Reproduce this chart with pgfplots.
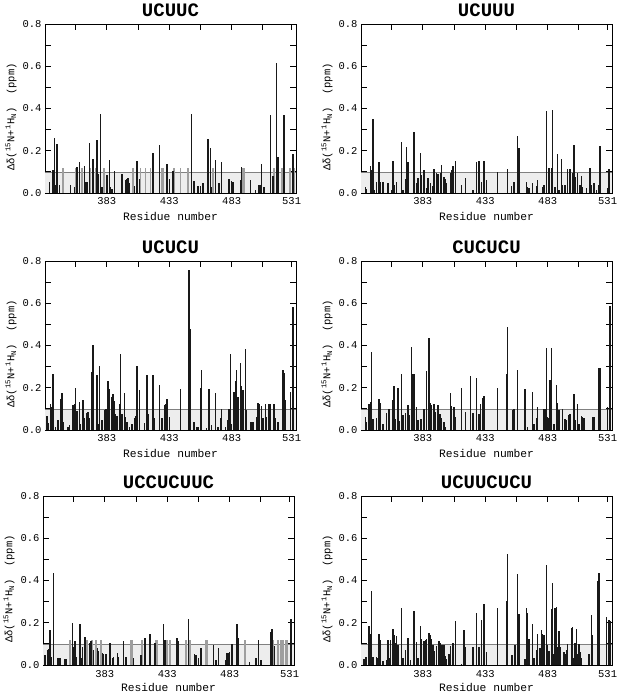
\documentclass[border=0pt]{standalone}
\usepackage{pgfplots}
\pgfplotsset{compat=1.18}
\usepackage{fontspec}
\setmainfont{Liberation Mono}

\definecolor{barblack}{gray}{0.1}
\definecolor{bargray}{gray}{0.62}
\definecolor{bandgray}{gray}{0.93}

\pgfplotsset{
  panel/.style={
    scale only axis, width=251pt, height=169pt, anchor=south west,
    xmin=333.5, xmax=534.5, ymin=0, ymax=0.8,
    xtick={383,433,483,531}, minor xtick={358,408,458,508},
    ytick={0,0.2,0.4,0.6,0.8}, minor ytick={0.1,0.3,0.5,0.7},
    tick align=inside, major tick length=6pt, minor tick length=6pt,
    tick style={black, line width=0.9pt},
    axis line style={line width=0.7pt},
    yticklabel style={/pgf/number format/fixed, /pgf/number format/fixed zerofill,
      /pgf/number format/precision=1, /pgf/number format/assume math mode=true},
    xticklabel style={/pgf/number format/assume math mode=true, /pgf/number format/1000 sep={},
      anchor=base, yshift=-12pt},
    ticklabel style={font=\fontsize{10.5}{12}\selectfont},
    xlabel={Residue number},
    xlabel style={at={(axis description cs:0.5,0)}, anchor=base, yshift=-28pt, font=\fontsize{11.3}{12}\selectfont},
    ylabel={Δδ(\textsuperscript{15}N+\textsuperscript{1}H\textsubscript{N})\ \ (ppm)},
    ylabel style={at={(axis description cs:-0.135,0.45)}, anchor=center, font=\fontsize{10.5}{12}\selectfont},
    title style={at={(axis description cs:0.5,1)}, anchor=base, yshift=2pt, font=\fontsize{19}{20}\selectfont\bfseries},
  },
  bottomrow/.style={xlabel style={yshift=1.5pt}},
  blackbars/.style={ycomb, barblack, line width=1.5pt},
  graybars/.style={ycomb, bargray, line width=1.8pt},
}

\newcommand{\band}{%
  \addplot[draw=none, fill=bandgray] coordinates {(333.5,0.1)(534.5,0.1)} \closedcycle;
  \addplot[gray, line width=0.5pt] coordinates {(333.5,0.1)(534.5,0.1)};
}

\begin{document}
\begin{tikzpicture}
\useasboundingbox (0,0) rectangle (622pt,694pt);

% UCUUC
\begin{axis}[panel, at={(45pt,501pt)}, title={UCUUC}]
\band
\addplot[graybars] coordinates {
(348,0.12)(358,0.12)(363,0.12)(370,0.12)(374,0.12)(381,0.12)(404,0.12)(410,0.12)
(414,0.12)(418,0.12)(427,0.12)(428,0.12)(437,0.12)(442,0.12)(448,0.12)(468,0.12)
(492,0.12)(493,0.12)(517,0.12)(523,0.12)(530,0.12)(533,0.12)};
\addplot[blackbars] coordinates {
(337,0.052)(340,0.11)(341,0.26)(342,0.04)(343,0.23)(345,0.04)(354,0.04)(357,0.03)
(359,0.125)(361,0.145)(365,0.13)(366,0.05)(367,0.05)(369,0.235)(372,0.16)(375,0.25)
(376,0.09)(378,0.375)(379,0.03)(383,0.085)(385,0.155)(386,0.03)(387,0.02)(389,0.105)
(395,0.09)(398,0.06)(399,0.065)(400,0.07)(401,0.045)(405,0.035)(407,0.15)(409,0.065)
(420,0.19)(425,0.225)(431,0.135)(433,0.065)(436,0.105)(451,0.375)(453,0.055)(456,0.033)
(458,0.035)(460,0.045)(464,0.255)(466,0.215)(467,0.03)(470,0.155)(473,0.045)(475,0.148)
(481,0.068)(483,0.055)(484,0.05)(490,0.062)(491,0.125)(498,0.06)(502,0.015)(505,0.04)
(506,0.04)(507,0.135)(509,0.03)(514,0.37)(516,0.08)(519,0.615)(520,0.17)(525,0.37)
(532,0.185)};
\end{axis}

% UCUUU
\begin{axis}[panel, at={(361pt,501pt)}, title={UCUUU}]
\band
\addplot[blackbars] coordinates {
(337,0.027)(338,0.02)(341,0.13)(342,0.11)(343,0.35)(344,0.015)(346,0.05)(348,0.145)
(349,0.05)(351,0.052)(355,0.045)(358,0.015)(359,0.153)(360,0.04)(362,0.05)(366,0.24)
(367,0.012)(369,0.065)(370,0.22)(371,0.148)(376,0.29)(378,0.045)(379,0.07)(381,0.19)
(382,0.085)(384,0.108)(386,0.025)(387,0.07)(389,0.045)(391,0.035)(392,0.115)(394,0.095)
(395,0.092)(397,0.095)(398,0.133)(400,0.075)(401,0.065)(402,0.045)(405,0.095)(406,0.11)
(407,0.127)(409,0.153)(414,0.036)(417,0.07)(423,0.012)(426,0.145)(428,0.153)(430,0.052)
(432,0.15)(434,0.06)(443,0.098)(451,0.115)(454,0.035)(456,0.052)(459,0.27)(460,0.215)
(466,0.05)(467,0.03)(468,0.025)(471,0.047)(474,0.035)(475,0.063)(479,0.03)(480,0.04)
(482,0.39)(484,0.12)(486,0.118)(487,0.393)(489,0.027)(491,0.185)(492,0.015)(494,0.16)
(495,0.038)(497,0.04)(499,0.115)(501,0.115)(503,0.095)(504,0.227)(505,0.075)(507,0.095)
(509,0.04)(510,0.08)(511,0.027)(514,0.025)(517,0.12)(518,0.04)(520,0.047)(522,0.015)
(524,0.038)(525,0.223)(531,0.025)(532,0.115)};
\end{axis}

% UCUCU
\begin{axis}[panel, at={(45pt,264pt)}, title={UCUCU}]
\band
\addplot[blackbars] coordinates {
(335,0.065)(336,0.035)(338,0.125)(339,0.11)(340,0.266)(342,0.013)(344,0.047)(346,0.145)
(347,0.175)(348,0.04)(352,0.015)(353,0.025)(356,0.12)(357,0.123)(358,0.2)(359,0.09)
(361,0.133)(362,0.03)(364,0.14)(365,0.055)(367,0.08)(368,0.085)(369,0.055)(371,0.275)
(372,0.4)(375,0.262)(376,0.03)(377,0.305)(379,0.047)(381,0.095)(382,0.1)(383,0.1)
(384,0.23)(385,0.195)(387,0.155)(388,0.17)(389,0.137)(390,0.078)(391,0.065)(393,0.125)
(394,0.358)(395,0.078)(397,0.177)(398,0.063)(399,0.04)(401,0.015)(403,0.03)(405,0.058)
(406,0.065)(407,0.305)(409,0.188)(413,0.035)(415,0.26)(416,0.078)(420,0.26)(421,0.055)
(425,0.215)(427,0.055)(429,0.118)(430,0.122)(431,0.145)(433,0.063)(442,0.192)(449,0.757)
(450,0.48)(453,0.04)(455,0.015)(456,0.015)(458,0.2)(459,0.283)(463,0.008)(465,0.193)
(467,0.024)(470,0.173)(472,0.015)(474,0.058)(475,0.1)(478,0.015)(480,0.047)(481,0.1)
(482,0.36)(483,0.03)(485,0.18)(486,0.23)(487,0.283)(488,0.157)(490,0.316)(491,0.21)
(492,0.188)(494,0.384)(495,0.093)(498,0.04)(499,0.04)(500,0.04)(503,0.063)(504,0.13)
(505,0.122)(507,0.115)(508,0.055)(510,0.122)(511,0.063)(513,0.122)(514,0.121)(517,0.122)
(518,0.055)(520,0.04)(524,0.285)(525,0.27)(526,0.141)(530,0.18)(532,0.58)};
\end{axis}

% CUCUCU
\begin{axis}[panel, at={(361pt,264pt)}, title={CUCUCU}]
\band
\addplot[blackbars] coordinates {
(337,0.06)(338,0.04)(340,0.122)(341,0.133)(342,0.37)(343,0.05)(346,0.058)(348,0.145)
(349,0.13)(351,0.027)(354,0.08)(356,0.1)(359,0.14)(360,0.207)(361,0.05)(363,0.2)
(364,0.044)(366,0.266)(367,0.07)(369,0.08)(371,0.12)(372,0.07)(374,0.395)(375,0.263)
(376,0.263)(378,0.11)(379,0.047)(381,0.052)(382,0.05)(384,0.1)(386,0.278)(388,0.434)
(389,0.128)(390,0.118)(392,0.125)(393,0.086)(395,0.116)(396,0.078)(397,0.078)(398,0.055)
(400,0.04)(401,0.015)(405,0.173)(406,0.115)(408,0.11)(409,0.06)(414,0.2)(417,0.085)
(421,0.255)(423,0.08)(426,0.245)(428,0.078)(429,0.125)(431,0.15)(432,0.16)(443,0.2)
(450,0.265)(451,0.487)(455,0.095)(456,0.1)(459,0.285)(465,0.193)(467,0.015)(471,0.18)
(472,0.03)(474,0.055)(475,0.107)(480,0.1)(481,0.1)(482,0.388)(483,0.063)(484,0.058)
(485,0.235)(486,0.39)(488,0.03)(490,0.215)(491,0.13)(492,0.094)(495,0.1)(497,0.05)
(498,0.047)(500,0.07)(501,0.074)(504,0.172)(505,0.047)(507,0.122)(508,0.03)(510,0.066)
(511,0.06)(512,0.055)(519,0.06)(520,0.06)(524,0.295)(525,0.295)(531,0.11)(533,0.587)};
\end{axis}

% UCCUCUUC
\begin{axis}[panel, bottomrow, at={(43pt,29pt)}, title={UCCUCUUC}]
\band
\addplot[graybars] coordinates {
(355,0.12)(369,0.12)(373,0.12)(376,0.12)(380,0.12)(404,0.12)(405,0.12)(413,0.12)
(424,0.12)(425,0.12)(433,0.12)(435,0.12)(448,0.12)(451,0.12)(464,0.12)(465,0.12)
(495,0.12)(518,0.12)(522,0.12)(524,0.12)(526,0.12)(528,0.12)(529,0.12)};
\addplot[blackbars] coordinates {
(335,0.047)(337,0.07)(338,0.075)(339,0.165)(340,0.04)(342,0.437)(345,0.035)(346,0.035)
(347,0.032)(351,0.03)(352,0.03)(357,0.2)(358,0.085)(359,0.113)(360,0.04)(363,0.193)
(364,0.035)(365,0.087)(367,0.134)(371,0.105)(372,0.113)(374,0.07)(377,0.08)(378,0.066)
(381,0.055)(382,0.05)(384,0.05)(387,0.105)(389,0.035)(390,0.038)(393,0.055)(394,0.04)
(398,0.115)(400,0.04)(406,0.032)(412,0.048)(415,0.13)(419,0.148)(423,0.105)(430,0.193)
(431,0.117)(441,0.13)(442,0.113)(450,0.216)(455,0.05)(456,0.047)(458,0.035)(460,0.082)
(470,0.095)(472,0.022)(474,0.08)(480,0.022)(481,0.055)(482,0.055)(483,0.06)(485,0.1)
(489,0.193)(490,0.13)(499,0.015)(504,0.035)(506,0.12)(508,0.025)(516,0.157)(517,0.17)
(519,0.09)(532,0.217)};
\end{axis}

% UCUUCUCU
\begin{axis}[panel, bottomrow, at={(361pt,29pt)}, title={UCUUCUCU}]
\band
\addplot[blackbars] coordinates {
(336,0.03)(337,0.04)(338,0.04)(340,0.185)(341,0.145)(342,0.35)(343,0.04)(346,0.04)
(347,0.035)(348,0.148)(349,0.118)(351,0.02)(354,0.022)(355,0.12)(356,0.035)(357,0.118)
(359,0.17)(360,0.14)(361,0.105)(362,0.137)(363,0.095)(366,0.268)(367,0.035)(369,0.07)
(371,0.13)(373,0.022)(376,0.255)(378,0.11)(379,0.035)(381,0.186)(382,0.125)(384,0.113)
(385,0.117)(386,0.121)(388,0.153)(389,0.142)(390,0.121)(391,0.093)(392,0.066)(394,0.09)
(396,0.113)(397,0.102)(398,0.097)(399,0.097)(400,0.097)(401,0.042)(402,0.027)(404,0.05)
(405,0.09)(407,0.105)(409,0.208)(414,0.003)(416,0.164)(417,0.087)(423,0.085)(426,0.248)
(428,0.085)(430,0.213)(432,0.287)(434,0.063)(443,0.272)(450,0.303)(451,0.527)(454,0.047)
(455,0.047)(457,0.095)(459,0.43)(460,0.243)(465,0.027)(466,0.268)(467,0.248)(468,0.121)
(471,0.193)(472,0.035)(474,0.07)(475,0.148)(477,0.08)(478,0.165)(479,0.148)(480,0.14)
(482,0.475)(483,0.093)(484,0.066)(486,0.265)(487,0.39)(488,0.05)(489,0.27)(490,0.275)
(491,0.085)(492,0.16)(493,0.085)(496,0.06)(497,0.054)(498,0.07)(499,0.1)(502,0.177)
(503,0.182)(504,0.035)(505,0.105)(506,0.17)(507,0.05)(508,0.1)(509,0.06)(510,0.035)
(516,0.05)(518,0.235)(519,0.142)(523,0.4)(524,0.437)(530,0.227)(532,0.213)(533,0.208)};
\end{axis}
\end{tikzpicture}
\end{document}
